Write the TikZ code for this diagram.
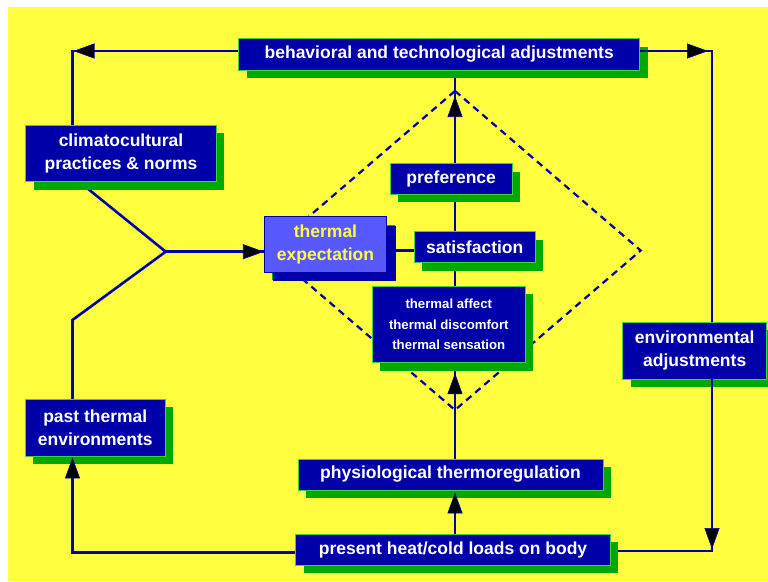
\documentclass[tikz,border=0pt]{standalone}
\usepackage{fontspec}
\setmainfont{Liberation Sans}
\usetikzlibrary{arrows.meta,shadows,calc}
\definecolor{bgyellow}{HTML}{FFFF40}
\definecolor{boxblue}{HTML}{0000A8}
\definecolor{shgreen}{HTML}{00A800}
\definecolor{edgegreen}{HTML}{40D040}
\definecolor{lightblue}{HTML}{5858FF}
\definecolor{lineblue}{HTML}{0000A8}
\definecolor{txtyellow}{HTML}{FFFF40}
\pgfdeclarelayer{bg}
\pgfdeclarelayer{lines}
\pgfsetlayers{bg,lines,main}
\begin{document}
\begin{tikzpicture}[x=1pt,y=-1pt,
  box/.style={fill=boxblue, draw=edgegreen, line width=0.8pt, text=white,
    font=\fontsize{17.5}{23.4}\selectfont\bfseries, align=center, inner sep=0pt,
    drop shadow={fill=shgreen, opacity=1, shadow xshift=8pt, shadow yshift=-8pt}},
  smallbox/.style={box, font=\fontsize{13.2}{20.3}\selectfont\bfseries},
  expbox/.style={box, fill=lightblue, draw=boxblue, text=txtyellow,
    drop shadow={fill=boxblue, opacity=1, shadow xshift=9pt, shadow yshift=-9pt}},
  conn/.style={draw=lineblue, line width=2.6pt},
  arr/.style={conn, -{Triangle[length=21pt,width=15pt,fill=black,line width=0.7pt]}},
  diam/.style={draw=lineblue, line width=2.2pt, dash pattern=on 7pt off 5pt}
]
\useasboundingbox (0,0) rectangle (768,581);
\begin{pgfonlayer}{bg}
  \fill[white] (0,0) rectangle (768,581);
  \fill[bgyellow] (8,7) rectangle (768,581);
\end{pgfonlayer}

% boxes
\node[box, minimum width=401pt, minimum height=31.6pt] (beh) at (439.2,54.5) {behavioral and technological adjustments};
\node[box, minimum width=190.6pt, minimum height=56.7pt] (clim) at (121,153.3) {climatocultural\\practices \& norms};
\node[expbox, minimum width=122.4pt, minimum height=55.6pt] (texp) at (325.5,244.5) {thermal\\expectation};
\node[box, minimum width=122.3pt, minimum height=30.3pt] (pref) at (451.2,178.9) {preference};
\node[box, minimum width=120.7pt, minimum height=31pt] (sat) at (474.7,247.2) {satisfaction};
\node[smallbox, minimum width=153pt, minimum height=76.7pt] (aff) at (448.8,324.4) {thermal affect\\thermal discomfort\\thermal sensation};
\node[box, minimum width=305pt, minimum height=31pt] (phys) at (450.5,474.5) {physiological thermoregulation};
\node[box, minimum width=314.7pt, minimum height=31pt] (pres) at (453,549.5) {present heat/cold loads on body};
\node[box, minimum width=144pt, minimum height=56.7pt] (env) at (694.7,350.7) {environmental\\adjustments};
\node[box, minimum width=139.7pt, minimum height=56.7pt] (past) at (95.3,427.7) {past thermal\\environments};

% helper coordinates
\coordinate (tl) at (72.5,51);
\coordinate (tr) at (712,51);
\coordinate (cx) at (455,0);
\coordinate (j) at (165.7,251.7);
\coordinate (lb) at (72.5,320);
\coordinate (lbot) at (72.5,552.3);
\coordinate (rbot) at (712,551);

\begin{pgfonlayer}{lines}
  \draw[diam] (455,91) -- (640.7,250.5) -- (455,410) -- (269.3,250.5) -- cycle;
  \draw[conn] (beh.west |- tl) -- (tl) -- (clim.north -| tl);
  \draw[conn] (beh.east |- tr) -- (tr) -- (env.north -| tr);
  \draw[conn] ($(clim.south west)+(54.3,0)$) -- (j) -- (lb) -- (past.north -| lb);
  \draw[conn] (j) -- (texp.west |- j);
  \draw[conn] (texp.east |- 0,250.7) -- (sat.west |- 0,250.7);
  \draw[conn] (pref.north -| cx) -- (beh.south -| cx);
  \draw[conn] (pref.south -| cx) -- (sat.north -| cx);
  \draw[conn] (sat.south -| cx) -- (aff.north -| cx);
  \draw[conn] (phys.north -| cx) -- (aff.south -| cx);
  \draw[conn] (pres.north -| cx) -- (phys.south -| cx);
  \draw[conn] (pres.west |- lbot) -- (lbot) -- (past.south -| lbot);
  \draw[conn] (env.south -| rbot) -- (rbot) -- (pres.east |- rbot);
\end{pgfonlayer}

% arrowheads
\draw[arr] (beh.west |- tl) -- ($(tl)+(1,0)$);
\draw[arr] (beh.east |- tr) -- ($(tr)+(-4,0)$);
\draw[arr] (j) -- (texp.west |- j);
\draw[arr] (pref.north -| cx) -- (cx |- 0,96);
\draw[arr] (phys.north -| cx) -- ($(aff.south -| cx)+(0,10)$);
\draw[arr] (pres.north -| cx) -- ($(phys.south -| cx)+(0,2)$);
\draw[arr] (lbot) -- ($(past.south -| lbot)+(0,1)$);
\draw[arr] (env.south -| rbot) -- ($(rbot)+(0,-2)$);
\end{tikzpicture}
\end{document}
